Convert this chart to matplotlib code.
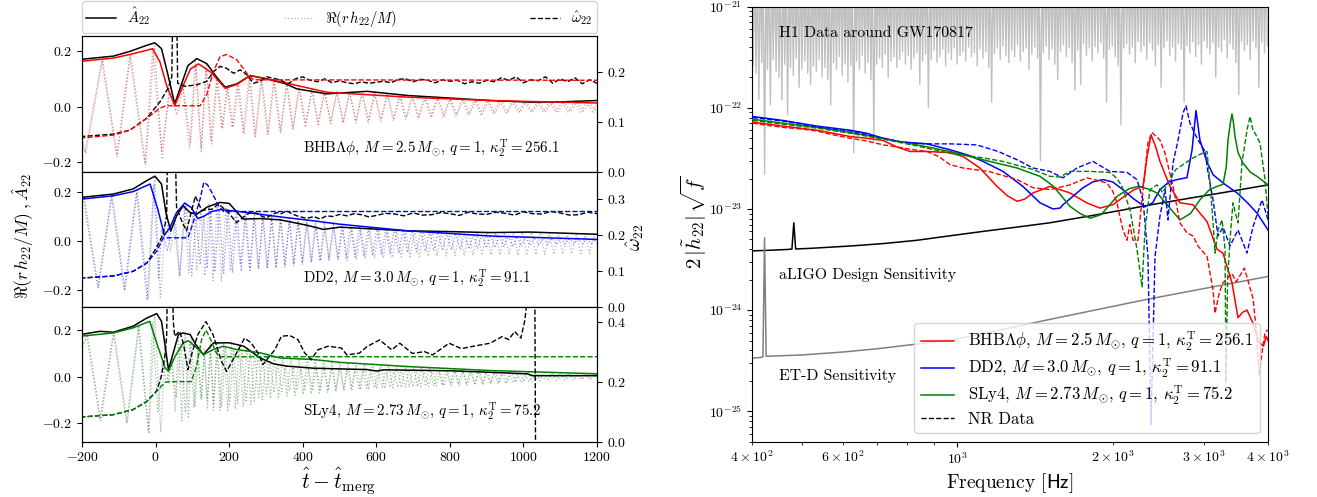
import numpy as np
import matplotlib
matplotlib.use("Agg")
import matplotlib.pyplot as plt
from matplotlib.lines import Line2D

plt.rcParams.update({
    "font.family": "serif",
    "font.serif": ["cmr10", "DejaVu Serif"],
    "mathtext.fontset": "cm",
    "axes.formatter.use_mathtext": True,
    "axes.unicode_minus": True,
})

# ---------------------------------------------------------------- left: time domain
# panel 1 : BHBLambdaPhi (red)
p1_amp_model = [(-205, 0.163), (-115, 0.175), (-70, 0.188), (-24, 0.203), (-8, 0.209), (12, 0.16), (30, 0.076),
                (52, 0.004), (75, 0.076), (95, 0.136), (117, 0.154), (150, 0.124), (189, 0.066), (221, 0.08),
                (257, 0.112), (338, 0.09), (465, 0.052), (686, 0.034), (909, 0.022), (1200, 0.013)]
p1_amp_nr = [(-205, 0.17), (-115, 0.182), (-70, 0.199), (-24, 0.221), (-2, 0.23), (16, 0.209), (34, 0.112),
             (52, 0.01), (66, 0.064), (88, 0.148), (112, 0.173), (139, 0.155), (166, 0.106), (189, 0.07),
             (221, 0.082), (257, 0.112), (302, 0.1), (354, 0.082), (384, 0.064), (465, 0.046), (575, 0.055),
             (686, 0.04), (798, 0.031), (909, 0.022), (1019, 0.016), (1100, 0.017), (1200, 0.022)]
p1_freq_model = [(-205, 0.067), (-115, 0.073), (-70, 0.083), (-24, 0.107), (12, 0.127), (25, 0.131), (40, 0.132),
                 (121, 0.132), (139, 0.154), (157, 0.2), (175, 0.23), (193, 0.235), (221, 0.224), (248, 0.197),
                 (266, 0.184), (1200, 0.183)]
p1_freq_nr = [(-205, 0.07), (-115, 0.075), (-70, 0.083), (-24, 0.107), (12, 0.14), (34, 0.167), (44, 0.19),
              (48, 0.4), (56, 0.4), (60, 0.177), (80, 0.171), (112, 0.174), (139, 0.181), (157, 0.2), (175, 0.211),
              (193, 0.207), (212, 0.197), (230, 0.204), (248, 0.194), (266, 0.177), (284, 0.181), (302, 0.19),
              (320, 0.187), (338, 0.184), (360, 0.176), (380, 0.186), (400, 0.19), (420, 0.183), (440, 0.18),
              (460, 0.186), (480, 0.178), (500, 0.182), (520, 0.178), (540, 0.176), (560, 0.18), (580, 0.177),
              (600, 0.179), (620, 0.181), (640, 0.178), (660, 0.185), (680, 0.186), (700, 0.18), (720, 0.185),
              (740, 0.183), (760, 0.178), (780, 0.184), (800, 0.181), (820, 0.183), (840, 0.176), (860, 0.18),
              (880, 0.177), (900, 0.183), (920, 0.18), (940, 0.188), (960, 0.183), (980, 0.19), (1000, 0.178),
              (1020, 0.184), (1040, 0.182), (1060, 0.19), (1080, 0.177), (1100, 0.186), (1120, 0.18),
              (1140, 0.188), (1160, 0.176), (1180, 0.184), (1200, 0.177)]
p1_re_model = [(-205, -0.10), (-192, -0.165), (-146, 0.165), (-106, -0.176), (-70, 0.182), (-29, -0.207), (-8, 0.205),
               (16, -0.16), (38, 0.05), (58, -0.03), (75, 0.07), (95, -0.13), (110, 0.15), (124, -0.15), (137, 0.14),
               (150, -0.12), (166, 0.1), (180, -0.08), (194, 0.07), (208, -0.075), (222, 0.08), (238, -0.09),
               (254, 0.11), (270, -0.11), (287, 0.1), (304, -0.1), (321, 0.098), (339, -0.095), (356, 0.085),
               (373, -0.085), (390, 0.075), (407, -0.075), (425, 0.068), (442, -0.07), (459, 0.06), (476, -0.062),
               (493, 0.055), (510, -0.058), (528, 0.05), (545, -0.052), (562, 0.046), (579, -0.048), (596, 0.043),
               (613, -0.045), (631, 0.04), (648, -0.042), (665, 0.037), (682, -0.039), (699, 0.034), (716, -0.036),
               (734, 0.032), (751, -0.034), (768, 0.03), (785, -0.032), (802, 0.028), (819, -0.03), (837, 0.026),
               (854, -0.028), (871, 0.024), (888, -0.026), (905, 0.023), (922, -0.024), (940, 0.021), (957, -0.023),
               (974, 0.02), (991, -0.021), (1008, 0.018), (1025, -0.02), (1043, 0.017), (1060, -0.019), (1077, 0.016),
               (1094, -0.018), (1111, 0.015), (1128, -0.017), (1146, 0.014), (1163, -0.016), (1180, 0.013),
               (1197, -0.015)]
p1_re_nr = [(-205, -0.08), (-190, -0.17), (-144, 0.17), (-104, -0.18), (-68, 0.19), (-27, -0.21), (-3, 0.225),
            (18, -0.19), (38, 0.08), (55, -0.01), (72, 0.09), (92, -0.15), (108, 0.17), (124, -0.165), (138, 0.155),
            (153, -0.135), (168, 0.105), (182, -0.08), (196, 0.07), (211, -0.075), (226, 0.085), (241, -0.1),
            (257, 0.112), (272, -0.108), (289, 0.105), (306, -0.1), (323, 0.095), (340, -0.088), (357, 0.082),
            (374, -0.075), (391, 0.066), (408, -0.062), (425, 0.055), (442, -0.055), (459, 0.047), (476, -0.052),
            (493, 0.05), (510, -0.056), (527, 0.054), (544, -0.06), (561, 0.055), (578, -0.06), (595, 0.053),
            (612, -0.056), (629, 0.048), (646, -0.052), (663, 0.043), (680, -0.047), (697, 0.039), (714, -0.043),
            (731, 0.037), (748, -0.04), (765, 0.034), (782, -0.037), (799, 0.031), (816, -0.034), (833, 0.029),
            (850, -0.031), (867, 0.026), (884, -0.029), (901, 0.023), (918, -0.026), (935, 0.021), (952, -0.024),
            (969, 0.019), (986, -0.022), (1003, 0.017), (1020, -0.02), (1037, 0.016), (1054, -0.02), (1071, 0.017),
            (1088, -0.021), (1105, 0.018), (1122, -0.022), (1139, 0.02), (1156, -0.023), (1173, 0.021),
            (1190, -0.024), (1200, 0.01)]

# panel 2 : DD2 (blue)
p2_amp_model = [(-205, 0.172), (-115, 0.186), (-61, 0.203), (-15, 0.234), (6, 0.131), (24, 0.025), (40, 0.06),
                (57, 0.118), (79, 0.156), (97, 0.138), (115, 0.093), (133, 0.104), (151, 0.121), (176, 0.13),
                (248, 0.118), (338, 0.1), (429, 0.084), (501, 0.07), (686, 0.043), (909, 0.022), (1200, 0.008)]
p2_amp_nr = [(-205, 0.179), (-115, 0.193), (-61, 0.214), (-24, 0.248), (-2, 0.266), (16, 0.234), (28, 0.118),
             (41, 0.042), (57, 0.104), (75, 0.145), (93, 0.118), (112, 0.111), (140, 0.14), (175, 0.159),
             (200, 0.155), (238, 0.091), (284, 0.093), (338, 0.088), (411, 0.066), (456, 0.049), (501, 0.058),
             (575, 0.052), (686, 0.043), (798, 0.04), (909, 0.036), (1019, 0.038), (1200, 0.029)]
p2_freq_model = [(-205, 0.079), (-115, 0.085), (-61, 0.098), (-24, 0.121), (3, 0.154), (21, 0.191), (88, 0.191),
                 (102, 0.233), (121, 0.299), (131, 0.345), (141, 0.338), (153, 0.317), (171, 0.28), (185, 0.264),
                 (1200, 0.264)]
p2_freq_nr = [(-205, 0.079), (-115, 0.085), (-61, 0.098), (-24, 0.121), (3, 0.165), (20, 0.2), (30, 0.25), (33, 0.5),
              (52, 0.5), (57, 0.275), (70, 0.24), (84, 0.21), (108, 0.307), (126, 0.266), (140, 0.27), (153, 0.27),
              (171, 0.285), (198, 0.261), (220, 0.233), (248, 0.256), (262, 0.262), (275, 0.259), (290, 0.25),
              (302, 0.247), (316, 0.255), (329, 0.261), (342, 0.258), (356, 0.266), (370, 0.258), (384, 0.252),
              (398, 0.248), (411, 0.245), (430, 0.25), (447, 0.243), (465, 0.252), (483, 0.25), (500, 0.256),
              (520, 0.252), (540, 0.258), (560, 0.255), (580, 0.249), (600, 0.253), (625, 0.259), (650, 0.257),
              (675, 0.252), (700, 0.26), (725, 0.254), (750, 0.255), (775, 0.261), (800, 0.258), (825, 0.253),
              (850, 0.262), (875, 0.257), (900, 0.256), (925, 0.262), (950, 0.259), (975, 0.254), (1000, 0.263),
              (1025, 0.258), (1050, 0.257), (1075, 0.264), (1100, 0.26), (1125, 0.254), (1150, 0.255),
              (1175, 0.262), (1200, 0.258)]
p2_re_model = [(-205, 0.16), (-196, 0.172), (-157, -0.19), (-120, 0.186), (-85, -0.197), (-52, 0.2), (-23, -0.24),
               (-5, 0.234), (8, -0.15), (16, 0.05), (32, -0.04), (49, 0.1), (65, -0.14), (82, 0.156), (98, -0.14),
               (110, 0.1), (121, -0.095), (131, 0.1), (140, -0.11), (150, 0.12), (161, -0.125), (173, 0.13),
               (185, -0.13), (197, 0.13), (209, -0.128), (221, 0.125), (233, -0.122), (245, 0.12), (257, -0.118),
               (269, 0.115), (280, -0.113), (292, 0.11), (304, -0.107), (316, 0.105), (328, -0.102), (340, 0.1),
               (352, -0.098), (364, 0.096), (376, -0.094), (388, 0.092), (399, -0.09), (411, 0.088), (423, -0.085),
               (435, 0.083), (447, -0.081), (459, 0.079), (471, -0.077), (483, 0.075), (495, -0.072), (507, 0.07),
               (518, -0.068), (530, 0.066), (542, -0.064), (554, 0.063), (566, -0.061), (578, 0.059), (590, -0.058),
               (602, 0.056), (614, -0.055), (626, 0.053), (637, -0.052), (649, 0.05), (661, -0.049), (673, 0.047),
               (685, -0.046), (697, 0.044), (709, -0.043), (721, 0.042), (733, -0.041), (745, 0.04), (756, -0.039),
               (768, 0.038), (780, -0.037), (792, 0.036), (804, -0.035), (816, 0.034), (828, -0.033), (840, 0.032),
               (852, -0.031), (864, 0.03), (875, -0.029), (887, 0.028), (899, -0.027), (911, 0.026), (923, -0.025),
               (935, 0.024), (947, -0.023), (959, 0.022), (971, -0.021), (983, 0.02), (994, -0.019), (1006, 0.018),
               (1018, -0.017), (1030, 0.016), (1042, -0.015), (1054, 0.014), (1066, -0.013), (1078, 0.013),
               (1090, -0.012), (1102, 0.012), (1113, -0.011), (1125, 0.011), (1137, -0.01), (1149, 0.01),
               (1161, -0.009), (1173, 0.009), (1185, -0.008), (1197, 0.008)]
p2_re_nr = [(-205, 0.15), (-194, 0.18), (-155, -0.19), (-118, 0.19), (-83, -0.2), (-50, 0.21), (-20, -0.235),
            (-2, 0.266), (13, -0.235), (28, 0.12), (41, -0.04), (54, 0.09), (66, -0.14), (78, 0.145), (90, -0.13),
            (101, 0.12), (112, -0.115), (123, 0.125), (134, -0.14), (145, 0.15), (156, -0.16), (167, 0.158),
            (179, -0.16), (191, 0.14), (203, -0.12), (216, 0.1), (230, -0.095), (243, 0.092), (255, -0.11),
            (267, 0.092), (279, -0.11), (291, 0.093), (303, -0.11), (315, 0.09), (327, -0.108), (339, 0.088),
            (351, -0.105), (363, 0.084), (375, -0.1), (387, 0.078), (399, -0.093), (411, 0.068), (424, -0.085),
            (436, 0.06), (448, -0.078), (460, 0.05), (472, -0.07), (485, 0.055), (497, -0.075), (509, 0.058),
            (521, -0.077), (534, 0.056), (546, -0.075), (558, 0.053), (570, -0.072), (582, 0.05), (595, -0.07),
            (607, 0.048), (619, -0.068), (631, 0.047), (643, -0.066), (656, 0.045), (668, -0.064), (680, 0.044),
            (692, -0.063), (704, 0.043), (717, -0.062), (729, 0.042), (741, -0.061), (753, 0.041), (765, -0.06),
            (778, 0.041), (790, -0.06), (802, 0.04), (814, -0.059), (826, 0.04), (839, -0.058), (851, 0.039),
            (863, -0.057), (875, 0.038), (887, -0.056), (900, 0.037), (912, -0.055), (924, 0.037), (936, -0.055),
            (948, 0.037), (961, -0.055), (973, 0.038), (985, -0.056), (997, 0.038), (1009, -0.056), (1022, 0.037),
            (1034, -0.055), (1046, 0.036), (1058, -0.054), (1070, 0.035), (1083, -0.053), (1095, 0.034),
            (1107, -0.052), (1119, 0.033), (1131, -0.051), (1144, 0.032), (1156, -0.05), (1168, 0.031),
            (1180, -0.049), (1192, 0.03), (1200, -0.02)]

# panel 3 : SLy4 (green)
p3_amp_model = [(-205, 0.173), (-115, 0.187), (-61, 0.209), (-16, 0.237), (3, 0.144), (26, 0.037), (35, 0.023),
                (53, 0.087), (75, 0.144), (89, 0.154), (107, 0.13), (130, 0.094), (157, 0.116), (184, 0.13),
                (220, 0.116), (284, 0.102), (338, 0.08), (429, 0.073), (501, 0.061), (686, 0.043), (909, 0.026),
                (1200, 0.012)]
p3_amp_nr = [(-205, 0.18), (-151, 0.194), (-115, 0.19), (-61, 0.216), (-24, 0.251), (3, 0.27), (16, 0.237),
             (26, 0.13), (35, 0.03), (48, 0.102), (62, 0.18), (75, 0.187), (94, 0.18), (108, 0.14), (130, 0.094),
             (157, 0.144), (200, 0.145), (240, 0.13), (284, 0.08), (320, 0.055), (356, 0.045), (429, 0.036),
             (575, 0.03), (600, 0.024), (620, 0.029), (800, 0.025), (963, 0.015), (1010, 0.012), (1025, 0.004),
             (1200, 0.004)]
p3_freq_model = [(-205, 0.082), (-115, 0.09), (-61, 0.107), (-24, 0.134), (3, 0.168), (26, 0.198), (40, 0.2),
                 (97, 0.2), (111, 0.251), (125, 0.34), (137, 0.372), (150, 0.34), (163, 0.3), (175, 0.283),
                 (1200, 0.283)]
p3_freq_nr = [(-205, 0.082), (-115, 0.09), (-61, 0.107), (-24, 0.134), (3, 0.17), (16, 0.22), (25, 0.284),
              (30, 0.35), (33, 0.6), (45, 0.6), (48, 0.4), (52, 0.351), (65, 0.368), (75, 0.33), (88, 0.24),
              (100, 0.3), (115, 0.357), (137, 0.4), (156, 0.357), (179, 0.268), (193, 0.234), (215, 0.284),
              (242, 0.345), (260, 0.329), (278, 0.296), (292, 0.257), (324, 0.306), (342, 0.351), (364, 0.354),
              (387, 0.34), (405, 0.296), (423, 0.273), (441, 0.306), (469, 0.318), (505, 0.312), (520, 0.289),
              (554, 0.295), (575, 0.317), (609, 0.339), (642, 0.306), (664, 0.328), (698, 0.294), (731, 0.3),
              (753, 0.289), (798, 0.328), (831, 0.31), (864, 0.318), (909, 0.328), (942, 0.35), (960, 0.34),
              (976, 0.367), (993, 0.345), (1004, 0.405), (1012, 0.5), (1031, 0.5), (1033, -0.05)]
p3_re_model = [(-205, 0.1), (-187, 0.17), (-151, -0.184), (-115, 0.187), (-79, -0.198), (-47, 0.21), (-20, -0.234),
               (-8, 0.237), (6, -0.15), (18, 0.06), (30, -0.023), (43, 0.06), (56, -0.09), (69, 0.14), (81, -0.154),
               (93, 0.15), (104, -0.13), (114, 0.11), (123, -0.094), (132, 0.095), (140, -0.1), (149, 0.11),
               (158, -0.116), (168, 0.122), (179, -0.13), (190, 0.125), (201, -0.12), (212, 0.116), (223, -0.114),
               (234, 0.112), (246, -0.11), (257, 0.107), (268, -0.105), (279, 0.103), (290, -0.1), (301, 0.097),
               (312, -0.094), (323, 0.09), (334, -0.088), (346, 0.085), (357, -0.083), (368, 0.081), (379, -0.08),
               (390, 0.078), (401, -0.077), (412, 0.075), (423, -0.074), (434, 0.072), (445, -0.071), (457, 0.069),
               (468, -0.068), (479, 0.066), (490, -0.065), (501, 0.063), (512, -0.062), (523, 0.06), (534, -0.059),
               (545, 0.058), (557, -0.057), (568, 0.056), (579, -0.055), (590, 0.054), (601, -0.053), (612, 0.052),
               (623, -0.051), (634, 0.05), (645, -0.049), (656, 0.048), (668, -0.047), (679, 0.046), (690, -0.045),
               (701, 0.044), (712, -0.043), (723, 0.042), (734, -0.041), (745, 0.041), (756, -0.04), (768, 0.039),
               (779, -0.038), (790, 0.037), (801, -0.036), (812, 0.036), (823, -0.035), (834, 0.034), (845, -0.033),
               (856, 0.032), (868, -0.031), (879, 0.031), (890, -0.03), (901, 0.029), (912, -0.028), (923, 0.027),
               (934, -0.027), (945, 0.026), (956, -0.025), (967, 0.024), (979, -0.024), (990, 0.023), (1001, -0.022),
               (1012, 0.021), (1023, -0.021), (1034, 0.02), (1045, -0.019), (1056, 0.018), (1067, -0.018),
               (1079, 0.017), (1090, -0.016), (1101, 0.016), (1112, -0.015), (1123, 0.014), (1134, -0.014),
               (1145, 0.013), (1156, -0.013), (1167, 0.012), (1179, -0.012), (1190, 0.012), (1200, -0.005)]
p3_re_nr = [(-205, 0.12), (-185, 0.18), (-149, -0.19), (-113, 0.19), (-77, -0.2), (-45, 0.22), (-18, -0.245),
            (-2, 0.27), (14, -0.24), (26, 0.12), (35, -0.03), (45, 0.08), (53, -0.15), (62, 0.18), (71, -0.19),
            (80, 0.187), (89, -0.18), (98, 0.17), (107, -0.13), (116, 0.1), (125, -0.1), (133, 0.12), (141, -0.14),
            (149, 0.144), (157, -0.145), (166, 0.145), (175, -0.145), (185, 0.145), (196, -0.145), (206, 0.14),
            (217, -0.14), (227, 0.135), (238, -0.13), (248, 0.125), (259, -0.12), (269, 0.1), (280, -0.09),
            (290, 0.08), (301, -0.075), (311, 0.065), (322, -0.07), (332, 0.055), (343, -0.065), (353, 0.045),
            (364, -0.06), (374, 0.04), (385, -0.058), (395, 0.037), (406, -0.056), (416, 0.036), (427, -0.055),
            (437, 0.036), (448, -0.055), (458, 0.036), (469, -0.055), (479, 0.035), (490, -0.054), (500, 0.035),
            (511, -0.053), (521, 0.034), (532, -0.052), (542, 0.033), (553, -0.051), (563, 0.032), (574, -0.05),
            (584, 0.03), (595, -0.048), (605, 0.027), (616, -0.045), (626, 0.028), (637, -0.046), (647, 0.029),
            (658, -0.046), (668, 0.029), (679, -0.045), (689, 0.028), (700, -0.044), (710, 0.028), (721, -0.043),
            (731, 0.027), (742, -0.042), (752, 0.027), (763, -0.041), (773, 0.026), (784, -0.04), (794, 0.025),
            (805, -0.039), (815, 0.024), (826, -0.038), (836, 0.023), (847, -0.037), (857, 0.022), (868, -0.036),
            (878, 0.021), (889, -0.035), (899, 0.02), (910, -0.033), (920, 0.019), (931, -0.032), (941, 0.018),
            (952, -0.03), (962, 0.016), (973, -0.028), (983, 0.015), (994, -0.026), (1004, 0.012), (1015, -0.02),
            (1025, 0.006), (1036, -0.01), (1046, 0.005), (1057, -0.008), (1067, 0.005), (1078, -0.008),
            (1088, 0.005), (1099, -0.008), (1109, 0.005), (1120, -0.008), (1130, 0.005), (1141, -0.008),
            (1151, 0.005), (1162, -0.008), (1172, 0.005), (1183, -0.008), (1193, 0.005)]

panel_labels = [r"BHB$\Lambda\phi$, $M = 2.5\,M_{\odot}$, $q = 1$, $\kappa_2^{\rm T} = 256.1$",
                r"DD2, $M = 3.0\,M_{\odot}$, $q = 1$, $\kappa_2^{\rm T} = 91.1$",
                r"SLy4, $M = 2.73\,M_{\odot}$, $q = 1$, $\kappa_2^{\rm T} = 75.2$"]
panel_colors = ["red", "blue", "green"]
left_ylims = [(-0.234, 0.253), (-0.266, 0.285), (-0.279, 0.30)]
right_ylims = [(0.0, 0.271), (0.0, 0.375), (0.0, 0.45)]
right_yticks = [[0.0, 0.1, 0.2], [0.0, 0.1, 0.2, 0.3], [0.0, 0.2, 0.4]]

# ---------------------------------------------------------------- right: frequency domain
freq_red = [401, 430, 459, 495, 534, 575, 620, 668, 718, 764, 810, 873, 968, 1026, 1106, 1194, 1250, 1306, 1350,
            1402, 1512, 1653, 1780, 1890, 2000, 2094, 2200, 2290, 2332, 2373, 2420, 2470, 2583, 2700, 2863, 3047,
            3186, 3272, 3406, 3499, 3570, 3642, 3742, 3843, 3920, 3970, 4000]
h_red = [7.2, 6.9, 6.6, 6.3, 6.0, 5.6, 5.2, 5.0, 4.75, 4.1, 3.7, 3.7, 3.6, 3.3, 2.54, 1.67, 1.35, 1.19, 1.25, 1.44,
         1.67, 1.44, 1.15, 1.02, 1.1, 1.3, 1.55, 1.67, 3.3, 5.4, 4.2, 2.95, 1.67, 1.15, 1.1, 0.75, 0.4, 0.366,
         0.186, 0.084, 0.095, 0.1, 0.074, 0.048, 0.044, 0.055, 0.05]
freq_blue = [401, 459, 534, 620, 668, 718, 774, 873, 968, 1050, 1122, 1226, 1340, 1446, 1532, 1581, 1602, 1680, 1752,
             1830, 1916, 2000, 2094, 2200, 2310, 2390, 2470, 2570, 2664, 2786, 2850, 2901, 2952, 3040, 3130, 3300,
             3484, 3650, 3808, 4000]
h_blue = [8.2, 7.5, 6.6, 6.0, 5.6, 5.0, 4.6, 4.4, 3.85, 3.4, 2.95, 2.35, 1.67, 1.15, 1.0, 1.02, 1.1, 1.35, 1.62,
          1.85, 1.95, 1.85, 1.55, 1.25, 1.05, 1.15, 1.55, 1.85, 1.95, 2.04, 3.84, 9.4, 4.8, 3.0, 2.18, 1.75, 1.44,
          1.15, 0.91, 0.62]
freq_green = [401, 459, 534, 620, 718, 835, 968, 1122, 1306, 1446, 1530, 1581, 1653, 1730, 1808, 1900, 2039, 2150,
              2239, 2340, 2438, 2570, 2700, 2830, 2952, 3080, 3186, 3272, 3320, 3346, 3380, 3406, 3430, 3452, 3500,
              3578, 3700, 3808, 4000]
h_green = [7.7, 7.05, 6.4, 5.7, 5.0, 4.3, 3.7, 3.06, 2.54, 2.1, 1.7, 1.4, 1.06, 0.9, 0.81, 0.88, 1.33, 1.58, 1.67,
           1.58, 1.44, 1.05, 0.78, 0.9, 1.23, 1.55, 1.67, 1.75, 2.6, 4.8, 7.0, 8.7, 7.0, 5.2, 3.6, 2.84, 2.3, 2.1,
           1.73]
freq_red_nr = [401, 430, 459, 495, 534, 575, 620, 668, 718, 764, 810, 873, 920, 968, 1026, 1150, 1306, 1402, 1512,
               1653, 1784, 1880, 1950, 2000, 2039, 2070, 2094, 2132, 2160, 2190, 2239, 2290, 2341, 2384, 2470, 2527,
               2618, 2700, 2786, 2863, 2927, 3047, 3130, 3158, 3220, 3272, 3406, 3470, 3600, 3742, 3800, 3843, 3900,
               3947, 4000]
h_red_nr = [7.05, 6.7, 6.4, 6.2, 5.9, 5.4, 5.0, 4.7, 4.3, 4.1, 3.9, 3.7, 3.3, 2.74, 2.54, 2.35, 1.95, 1.62, 1.55,
            1.73, 2.03, 1.9, 1.8, 1.5, 1.15, 0.8, 0.62, 0.49, 0.7, 0.49, 0.49, 1.55, 4.5, 5.7, 4.8, 3.55, 1.67, 0.73,
            0.58, 0.54, 0.43, 0.34, 0.158, 0.093, 0.15, 0.186, 0.23, 0.19, 0.26, 0.13, 0.06, 0.023, 0.04, 0.06, 0.064]
freq_blue_nr = [401, 459, 534, 620, 718, 774, 873, 968, 1090, 1200, 1306, 1402, 1512, 1602, 1706, 1832, 1976, 2132,
                2229, 2290, 2341, 2373, 2416, 2470, 2527, 2560, 2618, 2678, 2738, 2774, 2824, 2914, 3020, 3060, 3130,
                3200, 3272, 3376, 3499, 3642, 3742, 3895, 4000]
h_blue_nr = [8.0, 7.4, 6.5, 5.9, 5.0, 4.6, 4.4, 4.4, 4.3, 3.7, 3.06, 2.54, 2.35, 2.03, 2.54, 2.95, 2.35, 2.3, 1.95,
             1.23, 0.34, 0.0074, 0.34, 0.85, 1.55, 0.78, 2.84, 4.8, 8.9, 10.5, 7.05, 5.0, 3.7, 2.3, 1.23, 0.54, 0.66,
             0.43, 0.62, 0.366, 0.67, 1.23, 0.78]
freq_green_nr = [401, 459, 534, 620, 718, 835, 968, 1122, 1226, 1402, 1512, 1581, 1653, 1808, 1976, 2039, 2085, 2161,
                 2229, 2280, 2310, 2362, 2438, 2500, 2560, 2650, 2824, 2927, 3047, 3088, 3130, 3158, 3200, 3259, 3302,
                 3316, 3340, 3376, 3421, 3460, 3499, 3561, 3642, 3691, 3740, 3775, 3859, 3947, 4000]
h_green_nr = [7.5, 6.9, 6.3, 5.6, 4.9, 4.2, 3.55, 3.2, 2.95, 2.45, 2.1, 2.07, 2.35, 2.35, 2.3, 2.0, 1.67, 0.98, 0.4,
              0.17, 0.62, 1.55, 1.73, 1.45, 1.8, 2.45, 3.06, 3.4, 3.7, 1.8, 0.73, 0.366, 0.62, 0.78, 0.4, 0.019, 0.2,
              0.49, 1.15, 0.9, 0.73, 2.84, 6.0, 8.2, 6.0, 5.6, 4.5, 1.95, 0.85]
# sensitivity curves
freq_aligo = [400, 430, 470, 478, 482, 486, 520, 620, 720, 835, 960, 1122, 1300, 1512, 1800, 2100, 2373, 2800, 3300,
              4000]
h_aligo = [3.85, 3.9, 3.98, 4.02, 7.3, 4.02, 4.08, 4.3, 4.55, 4.9, 5.4, 6.0, 6.6, 7.3, 8.5, 9.8, 11.0, 12.7, 14.6,
           17.3]  # units 1e-24
freq_etd = [400, 415, 420, 423, 426, 431, 500, 600, 700, 800, 983, 1200, 1512, 1900, 2373, 3000, 3500, 4000]
h_etd = [3.35, 3.4, 3.45, 52.0, 3.5, 3.5, 3.6, 3.85, 4.15, 4.5, 5.1, 6.3, 8.1, 10.3, 13.0, 16.3, 18.9, 21.5]  # 1e-25
# H1 strain data around GW170817: local minima (units 1e-22) on the analysis frequency grid
H1_min = [2.6, 2.2, 1.2, 2.8, 0.22, 2.4, 1.07, 3.0, 2.3, 2.0,
          1.2, 2.7, 0.85, 2.5, 2.1, 3.1, 1.6, 2.4, 2.9, 2.2,
          1.7, 2.6, 2.3, 3.0, 2.0, 2.5, 1.9, 1.07, 2.8, 2.4,
          3.2, 2.1, 2.7, 1.8, 2.6, 0.36, 2.9, 2.4, 3.3, 2.2,
          2.8, 1.9, 0.46, 2.7, 3.1, 2.5, 3.4, 2.0, 2.9, 3.2,
          2.5, 3.0, 3.6, 2.7, 3.3, 2.4, 3.1, 3.5, 1.7, 2.9,
          3.4, 1.0, 3.0, 3.7, 2.8, 3.2, 3.8, 2.6, 3.5, 3.0,
          3.9, 2.7, 3.3, 3.6, 2.9, 4.0, 3.2, 3.5, 2.6, 3.8,
          3.1, 3.6, 2.5, 1.14, 3.4, 3.9, 3.0, 4.1, 3.3, 2.8,
          3.7, 3.2, 4.2, 2.9, 3.6, 3.9, 2.4, 3.4, 4.0, 3.1,
          0.3, 3.5, 4.1, 3.0, 3.8, 2.7, 1.9, 3.6, 4.2, 3.2,
          3.9, 2.8, 1.5, 3.7, 1.7, 4.3, 3.3, 3.9, 2.9, 4.0,
          3.5, 4.4, 3.1, 1.14, 3.8, 4.1, 3.2, 2.6, 0.68, 3.9,
          4.3, 3.4, 4.0, 2.8, 4.5, 3.6, 4.1, 3.0, 4.4, 3.7,
          2.6, 4.2, 1.6, 3.9, 4.6, 3.3, 4.0, 2.9, 4.3, 3.8,
          1.14, 4.1, 3.5, 4.5, 3.2, 4.2, 2.7, 4.6, 3.9, 3.4,
          4.4, 2.0, 4.0, 3.6, 4.7, 3.1, 4.3, 3.8, 2.8, 1.35,
          4.5, 3.7, 4.2, 3.0, 4.6, 3.9, 1.6, 4.4, 3.5, 4.1]
H1_TOP = 3e-21
legend_labels_right = [panel_labels[0], panel_labels[1], panel_labels[2], "NR Data"]


def xy(pairs):
    a = np.asarray(pairs, dtype=float)
    return a[:, 0], a[:, 1]


fig = plt.figure(figsize=(13.17, 4.97), dpi=100)

L, W = 0.0623, 0.391
B0, H = 0.1113, 0.2718
panels = [
    (p1_amp_model, p1_amp_nr, p1_freq_model, p1_freq_nr, p1_re_model, p1_re_nr),
    (p2_amp_model, p2_amp_nr, p2_freq_model, p2_freq_nr, p2_re_model, p2_re_nr),
    (p3_amp_model, p3_amp_nr, p3_freq_model, p3_freq_nr, p3_re_model, p3_re_nr),
]
left_axes = []
for k, (amp_m, amp_n, w_m, w_n, re_m, re_n) in enumerate(panels):
    c = panel_colors[k]
    ax = fig.add_axes([L, B0 + (2 - k) * H, W, H])
    ax.plot(*xy(re_n), ls=":", color="k", lw=0.9, alpha=0.3)
    ax.plot(*xy(re_m), ls=":", color=c, lw=0.9, alpha=0.45)
    ax.plot(*xy(amp_n), "-", color="k", lw=1.1)
    ax.plot(*xy(amp_m), "-", color=c, lw=1.1)
    ax.set_xlim(-200, 1200)
    ax.set_ylim(*left_ylims[k])
    ax.set_yticks([-0.2, 0.0, 0.2])
    ax.tick_params(labelsize=10)
    ax.text(400, -0.15, panel_labels[k], fontsize=10.8, ha="left", va="center")
    ax2 = ax.twinx()
    ax2.plot(*xy(w_n), "--", color="k", lw=1.0)
    ax2.plot(*xy(w_m), "--", color=c, lw=1.0)
    ax2.set_ylim(*right_ylims[k])
    ax2.set_yticks(right_yticks[k])
    ax2.tick_params(labelsize=10)
    if k < 2:
        ax.tick_params(axis="x", bottom=False, labelbottom=False)
    else:
        ax.set_xticks([-200, 0, 200, 400, 600, 800, 1000, 1200])
    left_axes.append(ax)

handles = [Line2D([], [], color="k", ls="-", lw=1.1),
           Line2D([], [], color="k", ls=":", lw=0.9, alpha=0.3),
           Line2D([], [], color="k", ls="--", lw=1.0)]
left_axes[0].legend(handles, [r"$\hat{A}_{22}$", r"$\Re(r\,h_{22}/M)$", r"$\hat{\omega}_{22}$"],
                    loc="lower left", bbox_to_anchor=(0.0, 1.025, 1.0, 0.2), mode="expand", ncol=3,
                    borderaxespad=0.0, fontsize=10.5, borderpad=0.3)

fig.text(0.0175, 0.525, r"$\Re(r\,h_{22}/M)\ ,\hat{A}_{22}$", rotation=90, ha="center", va="center",
         fontsize=12.6)
fig.text(0.482, 0.522, r"$\hat{\omega}_{22}$", rotation=90, ha="center", va="center", fontsize=14)
fig.text(0.257, 0.031, r"$\hat{t} - \hat{t}_{\rm merg}$", ha="center", va="center", fontsize=15.5)

# right panel
axr = fig.add_axes([0.571, 0.1113, 0.3918, 0.8753])
fl = np.geomspace(402, 3990, len(H1_min))
fm = np.sqrt(fl[:-1] * fl[1:])
fz = np.empty(2 * len(fl) - 1)
hz = np.empty(2 * len(fl) - 1)
fz[0::2] = fl
fz[1::2] = fm
hz[0::2] = np.asarray(H1_min) * 1e-22
hz[1::2] = H1_TOP
axr.plot(fz, hz, color="#c0c0c0", lw=1.0, zorder=1)
axr.plot(freq_aligo, np.asarray(h_aligo) * 1e-24, color="k", lw=1.1, zorder=2)
axr.plot(freq_etd, np.asarray(h_etd) * 1e-25, color="gray", lw=1.1, zorder=2)
l_r, = axr.plot(freq_red, np.asarray(h_red) * 1e-23, color="red", lw=1.1, zorder=3)
l_b, = axr.plot(freq_blue, np.asarray(h_blue) * 1e-23, color="blue", lw=1.1, zorder=3)
l_g, = axr.plot(freq_green, np.asarray(h_green) * 1e-23, color="green", lw=1.1, zorder=3)
axr.plot(freq_red_nr, np.asarray(h_red_nr) * 1e-23, "--", color="red", lw=1.0, zorder=3)
axr.plot(freq_blue_nr, np.asarray(h_blue_nr) * 1e-23, "--", color="blue", lw=1.0, zorder=3)
axr.plot(freq_green_nr, np.asarray(h_green_nr) * 1e-23, "--", color="green", lw=1.0, zorder=3)
axr.set_xscale("log")
axr.set_yscale("log")
axr.set_xlim(400, 4000)
axr.set_ylim(5e-26, 1e-21)
axr.tick_params(which="both", labelsize=10)
axr.text(0.052, 0.94, "H1 Data around GW170817", transform=axr.transAxes, fontsize=11.4, ha="left", va="center")
axr.text(0.052, 0.384, "aLIGO Design Sensitivity", transform=axr.transAxes, fontsize=11.3, ha="left", va="center")
axr.text(0.052, 0.15, "ET-D Sensitivity", transform=axr.transAxes, fontsize=11.3, ha="left", va="center")
nr_handle = Line2D([], [], color="k", ls="--", lw=1.0)
axr.legend([l_r, l_b, l_g, nr_handle], legend_labels_right, loc="lower right", fontsize=12, labelspacing=0.25)
fig.text(0.527, 0.553, r"$2\,|\tilde{h}_{22}|\,\sqrt{f}$", rotation=90, ha="center", va="center", fontsize=15)
fig.text(0.767, 0.028, r"Frequency [$\mathsf{Hz}$]", ha="center", va="center", fontsize=14)

fig.savefig("out.png", dpi=100)
